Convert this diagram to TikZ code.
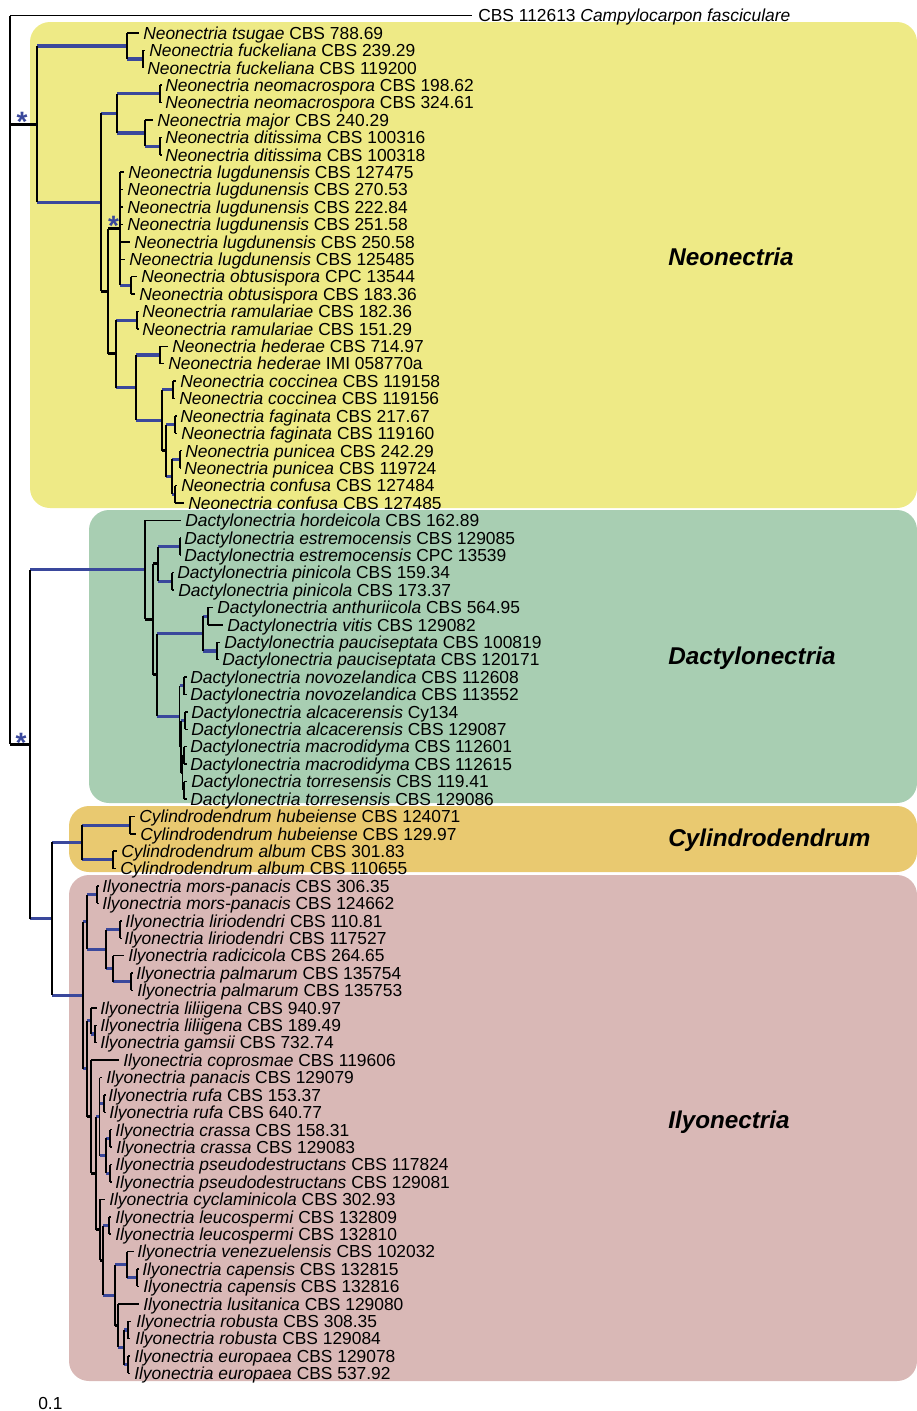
\documentclass[tikz,border=0pt]{standalone}
\usepackage{fontspec}
\setmainfont{Liberation Sans}
\definecolor{brblue}{RGB}{58,72,156}
\definecolor{cyel}{RGB}{238,234,134}
\definecolor{cgrn}{RGB}{168,206,178}
\definecolor{corg}{RGB}{233,201,112}
\definecolor{cpnk}{RGB}{217,184,182}
\tikzset{
 brT/.style={line width=1.1pt, black},
 brV/.style={line width=1.1pt, black},
 brB/.style={line width=2.3pt, brblue},
 brK/.style={line width=2.3pt, black},
 lab/.style={anchor=west, inner sep=0pt, font=\fontsize{13.05}{14}\selectfont, text height=9.4pt, text depth=0pt},
 clade/.style={anchor=west, inner sep=0pt, font=\fontsize{18.2}{20}\selectfont\bfseries\itshape, text height=13pt, text depth=0pt},
 cbox/.style={rounded corners=15pt},
 star/.style={text=brblue, font=\fontsize{21}{21}\selectfont\bfseries, inner sep=0pt}
}
\newcommand\mkleaf[5]{\coordinate (t#1) at (#2,#1); \node[lab] (l#1) at (#3,#1) {\textit{#4} #5};}
\newcommand\hbr[3]{\draw[#1] (#2 |- #3) -- (#3);}
\newcommand\vbr[3]{\draw[brV] (#1 |- #2) -- (#1 |- #3);}
\begin{document}
\begin{tikzpicture}[x=0.75pt, y=-0.75pt]
\useasboundingbox (0,0) rectangle (917,1411);
% clade backgrounds
\fill[cyel, cbox] (30,22) rectangle (917,508);
\fill[cgrn, cbox] (89,510) rectangle (917,803);
\fill[corg, cbox] (69,806) rectangle (917,872);
\fill[cpnk, cbox] (69,875) rectangle (917,1381);
% clade labels
\node[clade] (cN) at (668,257) {Neonectria};
\node[clade] (cD) at (668,656) {Dactylonectria};
\node[clade] (cC) at (668,838) {Cylindrodendrum};
\node[clade] (cI) at (668,1120) {Ilyonectria};
\node[lab] (scale) at (38,1403) {0.1};
\begin{scope}[x=0.75pt, y=-13.0575pt, yshift=-11.625pt]
% leaves
\coordinate (t0) at (472,0);
\node[lab] (l0) at (478,0) {CBS 112613 \textit{Campylocarpon fasciculare}};
\mkleaf{1}{139}{143}{Neonectria tsugae}{CBS 788.69}
\mkleaf{2}{145}{149}{Neonectria fuckeliana}{CBS 239.29}
\mkleaf{3}{144}{147}{Neonectria fuckeliana}{CBS 119200}
\mkleaf{4}{161.5}{165}{Neonectria neomacrospora}{CBS 198.62}
\mkleaf{5}{161.5}{165}{Neonectria neomacrospora}{CBS 324.61}
\mkleaf{6}{153}{157}{Neonectria major}{CBS 240.29}
\mkleaf{7}{161.5}{165}{Neonectria ditissima}{CBS 100316}
\mkleaf{8}{161.5}{165}{Neonectria ditissima}{CBS 100318}
\mkleaf{9}{124}{128}{Neonectria lugdunensis}{CBS 127475}
\mkleaf{10}{123}{127}{Neonectria lugdunensis}{CBS 270.53}
\mkleaf{11}{123}{127}{Neonectria lugdunensis}{CBS 222.84}
\mkleaf{12}{123}{127}{Neonectria lugdunensis}{CBS 251.58}
\mkleaf{13}{130}{134}{Neonectria lugdunensis}{CBS 250.58}
\mkleaf{14}{125}{129}{Neonectria lugdunensis}{CBS 125485}
\mkleaf{15}{137}{141}{Neonectria obtusispora}{CPC 13544}
\mkleaf{16}{135}{139}{Neonectria obtusispora}{CBS 183.36}
\mkleaf{17}{138.5}{142}{Neonectria ramulariae}{CBS 182.36}
\mkleaf{18}{138.5}{142}{Neonectria ramulariae}{CBS 151.29}
\mkleaf{19}{168}{172}{Neonectria hederae}{CBS 714.97}
\mkleaf{20}{164}{168}{Neonectria hederae}{IMI 058770a}
\mkleaf{21}{176}{180}{Neonectria coccinea}{CBS 119158}
\mkleaf{22}{175}{179}{Neonectria coccinea}{CBS 119156}
\mkleaf{23}{176.5}{180}{Neonectria faginata}{CBS 217.67}
\mkleaf{24}{177}{181}{Neonectria faginata}{CBS 119160}
\mkleaf{25}{181.5}{185}{Neonectria punicea}{CBS 242.29}
\mkleaf{26}{181}{184}{Neonectria punicea}{CBS 119724}
\mkleaf{27}{177}{181}{Neonectria confusa}{CBS 127484}
\mkleaf{28}{184}{188}{Neonectria confusa}{CBS 127485}
\mkleaf{29}{181}{185}{Dactylonectria hordeicola}{CBS 162.89}
\mkleaf{30}{181}{184}{Dactylonectria estremocensis}{CBS 129085}
\mkleaf{31}{181}{184}{Dactylonectria estremocensis}{CPC 13539}
\mkleaf{32}{174}{177}{Dactylonectria pinicola}{CBS 159.34}
\mkleaf{33}{174}{178}{Dactylonectria pinicola}{CBS 173.37}
\mkleaf{34}{213}{217}{Dactylonectria anthuriicola}{CBS 564.95}
\mkleaf{35}{223}{227}{Dactylonectria vitis}{CBS 129082}
\mkleaf{36}{220}{224}{Dactylonectria pauciseptata}{CBS 100819}
\mkleaf{37}{218.5}{222}{Dactylonectria pauciseptata}{CBS 120171}
\mkleaf{38}{186.5}{190}{Dactylonectria novozelandica}{CBS 112608}
\mkleaf{39}{186.5}{190}{Dactylonectria novozelandica}{CBS 113552}
\mkleaf{40}{187.5}{191}{Dactylonectria alcacerensis}{Cy134}
\mkleaf{41}{187.5}{191}{Dactylonectria alcacerensis}{CBS 129087}
\mkleaf{42}{186.5}{190}{Dactylonectria macrodidyma}{CBS 112601}
\mkleaf{43}{186.5}{190}{Dactylonectria macrodidyma}{CBS 112615}
\mkleaf{44}{187}{191}{Dactylonectria torresensis}{CBS 119.41}
\mkleaf{45}{186.5}{190}{Dactylonectria torresensis}{CBS 129086}
\mkleaf{46}{135}{139}{Cylindrodendrum hubeiense}{CBS 124071}
\mkleaf{47}{136}{140}{Cylindrodendrum hubeiense}{CBS 129.97}
\mkleaf{48}{117}{121}{Cylindrodendrum album}{CBS 301.83}
\mkleaf{49}{116}{120}{Cylindrodendrum album}{CBS 110655}
\mkleaf{50}{99}{102}{Ilyonectria mors-panacis}{CBS 306.35}
\mkleaf{51}{99}{102}{Ilyonectria mors-panacis}{CBS 124662}
\mkleaf{52}{121.5}{125}{Ilyonectria liriodendri}{CBS 110.81}
\mkleaf{53}{121.5}{124}{Ilyonectria liriodendri}{CBS 117527}
\mkleaf{54}{124}{128}{Ilyonectria radicicola}{CBS 264.65}
\mkleaf{55}{133}{136}{Ilyonectria palmarum}{CBS 135754}
\mkleaf{56}{133}{137}{Ilyonectria palmarum}{CBS 135753}
\mkleaf{57}{97}{100}{Ilyonectria liliigena}{CBS 940.97}
\mkleaf{58}{97}{100}{Ilyonectria liliigena}{CBS 189.49}
\mkleaf{59}{97}{100}{Ilyonectria gamsii}{CBS 732.74}
\mkleaf{60}{119}{123}{Ilyonectria coprosmae}{CBS 119606}
\mkleaf{61}{102}{106}{Ilyonectria panacis}{CBS 129079}
\mkleaf{62}{105.5}{108}{Ilyonectria rufa}{CBS 153.37}
\mkleaf{63}{105.5}{109}{Ilyonectria rufa}{CBS 640.77}
\mkleaf{64}{112}{115}{Ilyonectria crassa}{CBS 158.31}
\mkleaf{65}{112}{116}{Ilyonectria crassa}{CBS 129083}
\mkleaf{66}{112}{115}{Ilyonectria pseudodestructans}{CBS 117824}
\mkleaf{67}{112}{115}{Ilyonectria pseudodestructans}{CBS 129081}
\mkleaf{68}{105}{109}{Ilyonectria cyclaminicola}{CBS 302.93}
\mkleaf{69}{111}{115}{Ilyonectria leucospermi}{CBS 132809}
\mkleaf{70}{111}{115}{Ilyonectria leucospermi}{CBS 132810}
\mkleaf{71}{134}{137}{Ilyonectria venezuelensis}{CBS 102032}
\mkleaf{72}{139}{142}{Ilyonectria capensis}{CBS 132815}
\mkleaf{73}{139}{143}{Ilyonectria capensis}{CBS 132816}
\mkleaf{74}{139}{143}{Ilyonectria lusitanica}{CBS 129080}
\mkleaf{75}{131}{136}{Ilyonectria robusta}{CBS 308.35}
\mkleaf{76}{130}{135}{Ilyonectria robusta}{CBS 129084}
\mkleaf{77}{130}{134}{Ilyonectria europaea}{CBS 129078}
\mkleaf{78}{130}{134}{Ilyonectria europaea}{CBS 537.92}
% internal nodes
\coordinate (R) at (10,0);
\coordinate (N0) at (37,6.2421875);
\coordinate (NA) at (127,1.75);
\coordinate (NF) at (143,2.5);
\coordinate (NB) at (101,10.734375);
\coordinate (NC) at (117,5.625);
\coordinate (NM) at (160,4.5);
\coordinate (ND) at (145,6.75);
\coordinate (NDi) at (160,7.5);
\coordinate (NL) at (108,15.84375);
\coordinate (NLu) at (120,12.25);
\coordinate (NO) at (131,15.5);
\coordinate (NR) at (116,19.4375);
\coordinate (NRa) at (137,17.5);
\coordinate (NH) at (136,21.375);
\coordinate (NHe) at (160,19.5);
\coordinate (NCo) at (162,23.25);
\coordinate (NCc) at (173,21.5);
\coordinate (NFp) at (166,25);
\coordinate (NFa) at (175,23.5);
\coordinate (NPC) at (172,26.5);
\coordinate (NPu) at (180,25.5);
\coordinate (NCf) at (175,27.5);
\coordinate (M0) at (30,41.8671875);
\coordinate (D0) at (145,31.84375);
\coordinate (D1) at (153,34.6875);
\coordinate (D2) at (158,31.5);
\coordinate (DEs) at (180,30.5);
\coordinate (DPi) at (172,32.5);
\coordinate (D3) at (157,37.875);
\coordinate (D4) at (203,35.5);
\coordinate (DAV) at (208,34.5);
\coordinate (DPa) at (217,36.5);
\coordinate (D5) at (179.5,40.25);
\coordinate (DNo) at (184,38.5);
\coordinate (D6) at (181,42);
\coordinate (DAl) at (185,40.5);
\coordinate (D7) at (182.5,43.5);
\coordinate (DMa) at (184,42.5);
\coordinate (DTo) at (184,44.5);
\coordinate (C0) at (52,51.890625);
\coordinate (C1) at (82,47.5);
\coordinate (CHu) at (130,46.5);
\coordinate (CAl) at (113,48.5);
\coordinate (I0) at (83,56.28125);
\coordinate (I1) at (87,52.0625);
\coordinate (IMo) at (97,50.5);
\coordinate (I3) at (106,53.625);
\coordinate (ILi) at (120,52.5);
\coordinate (I4) at (113,54.75);
\coordinate (IPa) at (131,55.5);
\coordinate (I2) at (87,60.5);
\coordinate (I5) at (91,57.75);
\coordinate (I7) at (95,58.5);
\coordinate (I6) at (91,63.25);
\coordinate (I8) at (96,66.5);
\coordinate (I9) at (99.5,63.25);
\coordinate (IRu) at (104,62.5);
\coordinate (I11) at (106,65.5);
\coordinate (ICr) at (110,64.5);
\coordinate (IPs) at (110,66.5);
\coordinate (I10) at (100,69.75);
\coordinate (I12) at (103,71.5);
\coordinate (ILe) at (109,69.5);
\coordinate (I13) at (115,73.5);
\coordinate (I14) at (127,71.75);
\coordinate (ICa) at (137,72.5);
\coordinate (I15) at (118,75.25);
\coordinate (I16) at (124,76.5);
\coordinate (IRo) at (128,75.5);
\coordinate (IEu) at (128,77.5);
% horizontal branches
\hbr{brT}{R}{t0} \hbr{brK}{R}{N0} \hbr{brK}{R}{M0}
\hbr{brB}{N0}{NA} \hbr{brB}{N0}{NB}
\hbr{brT}{NA}{t1} \hbr{brB}{NA}{NF}
\hbr{brT}{NF}{t2} \hbr{brT}{NF}{t3}
\hbr{brB}{NB}{NC} \hbr{brK}{NB}{NL}
\hbr{brB}{NC}{NM} \hbr{brB}{NC}{ND}
\hbr{brT}{NM}{t4} \hbr{brT}{NM}{t5}
\hbr{brT}{ND}{t6} \hbr{brB}{ND}{NDi}
\hbr{brT}{NDi}{t7} \hbr{brT}{NDi}{t8}
\hbr{brK}{NL}{NLu} \hbr{brK}{NL}{NR}
\hbr{brT}{NLu}{t9} \hbr{brT}{NLu}{t10} \hbr{brT}{NLu}{t11} \hbr{brT}{NLu}{t12} \hbr{brT}{NLu}{t13} \hbr{brT}{NLu}{t14} \hbr{brB}{NLu}{NO}
\hbr{brT}{NO}{t15} \hbr{brT}{NO}{t16}
\hbr{brB}{NR}{NRa} \hbr{brB}{NR}{NH}
\hbr{brT}{NRa}{t17} \hbr{brT}{NRa}{t18}
\hbr{brB}{NH}{NHe} \hbr{brB}{NH}{NCo}
\hbr{brT}{NHe}{t19} \hbr{brT}{NHe}{t20}
\hbr{brB}{NCo}{NCc} \hbr{brK}{NCo}{NFp}
\hbr{brT}{NCc}{t21} \hbr{brT}{NCc}{t22}
\hbr{brB}{NFp}{NFa} \hbr{brB}{NFp}{NPC}
\hbr{brT}{NFa}{t23} \hbr{brT}{NFa}{t24}
\hbr{brB}{NPC}{NPu} \hbr{brB}{NPC}{NCf}
\hbr{brT}{NPu}{t25} \hbr{brT}{NPu}{t26}
\hbr{brT}{NCf}{t27} \hbr{brT}{NCf}{t28}
\hbr{brB}{M0}{D0} \hbr{brB}{M0}{C0}
\hbr{brT}{D0}{t29} \hbr{brK}{D0}{D1}
\hbr{brK}{D1}{D2} \hbr{brK}{D1}{D3}
\hbr{brB}{D2}{DEs} \hbr{brB}{D2}{DPi}
\hbr{brT}{DEs}{t30} \hbr{brT}{DEs}{t31}
\hbr{brT}{DPi}{t32} \hbr{brT}{DPi}{t33}
\hbr{brB}{D3}{D4} \hbr{brB}{D3}{D5}
\hbr{brB}{D4}{DAV} \hbr{brB}{D4}{DPa}
\hbr{brT}{DAV}{t34} \hbr{brT}{DAV}{t35}
\hbr{brT}{DPa}{t36} \hbr{brT}{DPa}{t37}
\hbr{brB}{D5}{DNo} \hbr{brK}{D5}{D6}
\hbr{brT}{DNo}{t38} \hbr{brT}{DNo}{t39}
\hbr{brB}{D6}{DAl} \hbr{brK}{D6}{D7}
\hbr{brT}{DAl}{t40} \hbr{brT}{DAl}{t41}
\hbr{brB}{D7}{DMa} \hbr{brB}{D7}{DTo}
\hbr{brT}{DMa}{t42} \hbr{brT}{DMa}{t43}
\hbr{brT}{DTo}{t44} \hbr{brT}{DTo}{t45}
\hbr{brB}{C0}{C1} \hbr{brB}{C0}{I0}
\hbr{brB}{C1}{CHu} \hbr{brB}{C1}{CAl}
\hbr{brT}{CHu}{t46} \hbr{brT}{CHu}{t47}
\hbr{brT}{CAl}{t48} \hbr{brT}{CAl}{t49}
\hbr{brB}{I0}{I1} \hbr{brB}{I0}{I2}
\hbr{brB}{I1}{IMo} \hbr{brB}{I1}{I3}
\hbr{brT}{IMo}{t50} \hbr{brT}{IMo}{t51}
\hbr{brB}{I3}{ILi} \hbr{brB}{I3}{I4}
\hbr{brT}{ILi}{t52} \hbr{brT}{ILi}{t53}
\hbr{brT}{I4}{t54} \hbr{brB}{I4}{IPa}
\hbr{brT}{IPa}{t55} \hbr{brT}{IPa}{t56}
\hbr{brB}{I2}{I5} \hbr{brK}{I2}{I6}
\hbr{brT}{I5}{t57} \hbr{brB}{I5}{I7}
\hbr{brT}{I7}{t58} \hbr{brT}{I7}{t59}
\hbr{brT}{I6}{t60} \hbr{brK}{I6}{I8}
\hbr{brB}{I8}{I9} \hbr{brK}{I8}{I10}
\hbr{brT}{I9}{t61} \hbr{brB}{I9}{IRu} \hbr{brB}{I9}{I11}
\hbr{brT}{IRu}{t62} \hbr{brT}{IRu}{t63}
\hbr{brB}{I11}{ICr} \hbr{brB}{I11}{IPs}
\hbr{brT}{ICr}{t64} \hbr{brT}{ICr}{t65}
\hbr{brT}{IPs}{t66} \hbr{brT}{IPs}{t67}
\hbr{brT}{I10}{t68} \hbr{brK}{I10}{I12}
\hbr{brB}{I12}{ILe} \hbr{brB}{I12}{I13}
\hbr{brT}{ILe}{t69} \hbr{brT}{ILe}{t70}
\hbr{brB}{I13}{I14} \hbr{brK}{I13}{I15}
\hbr{brT}{I14}{t71} \hbr{brB}{I14}{ICa}
\hbr{brT}{ICa}{t72} \hbr{brT}{ICa}{t73}
\hbr{brT}{I15}{t74} \hbr{brB}{I15}{I16}
\hbr{brB}{I16}{IRo} \hbr{brB}{I16}{IEu}
\hbr{brT}{IRo}{t75} \hbr{brT}{IRo}{t76}
\hbr{brT}{IEu}{t77} \hbr{brT}{IEu}{t78}
% vertical branches
\vbr{R}{t0}{M0}
\vbr{N0}{NA}{NB} \vbr{NA}{t1}{NF} \vbr{NF}{t2}{t3}
\vbr{NB}{NC}{NL} \vbr{NC}{NM}{ND} \vbr{NM}{t4}{t5} \vbr{ND}{t6}{NDi} \vbr{NDi}{t7}{t8}
\vbr{NL}{NLu}{NR} \vbr{NLu}{t9}{NO} \vbr{NO}{t15}{t16}
\vbr{NR}{NRa}{NH} \vbr{NRa}{t17}{t18} \vbr{NH}{NHe}{NCo} \vbr{NHe}{t19}{t20}
\vbr{NCo}{NCc}{NFp} \vbr{NCc}{t21}{t22} \vbr{NFp}{NFa}{NPC} \vbr{NFa}{t23}{t24}
\vbr{NPC}{NPu}{NCf} \vbr{NPu}{t25}{t26} \vbr{NCf}{t27}{t28}
\vbr{M0}{D0}{C0}
\vbr{D0}{t29}{D1} \vbr{D1}{D2}{D3} \vbr{D2}{DEs}{DPi} \vbr{DEs}{t30}{t31} \vbr{DPi}{t32}{t33}
\vbr{D3}{D4}{D5} \vbr{D4}{DAV}{DPa} \vbr{DAV}{t34}{t35} \vbr{DPa}{t36}{t37}
\vbr{D5}{DNo}{D6} \vbr{DNo}{t38}{t39} \vbr{D6}{DAl}{D7} \vbr{DAl}{t40}{t41}
\vbr{D7}{DMa}{DTo} \vbr{DMa}{t42}{t43} \vbr{DTo}{t44}{t45}
\vbr{C0}{C1}{I0} \vbr{C1}{CHu}{CAl} \vbr{CHu}{t46}{t47} \vbr{CAl}{t48}{t49}
\vbr{I0}{I1}{I2} \vbr{I1}{IMo}{I3} \vbr{IMo}{t50}{t51} \vbr{I3}{ILi}{I4} \vbr{ILi}{t52}{t53}
\vbr{I4}{t54}{IPa} \vbr{IPa}{t55}{t56}
\vbr{I2}{I5}{I6} \vbr{I5}{t57}{I7} \vbr{I7}{t58}{t59} \vbr{I6}{t60}{I8}
\vbr{I8}{I9}{I10} \vbr{I9}{t61}{I11} \vbr{IRu}{t62}{t63} \vbr{I11}{ICr}{IPs}
\vbr{ICr}{t64}{t65} \vbr{IPs}{t66}{t67}
\vbr{I10}{t68}{I12} \vbr{I12}{ILe}{I13} \vbr{ILe}{t69}{t70} \vbr{I13}{I14}{I15}
\vbr{I14}{t71}{ICa} \vbr{ICa}{t72}{t73} \vbr{I15}{t74}{I16} \vbr{I16}{IRo}{IEu}
\vbr{IRo}{t75}{t76} \vbr{IEu}{t77}{t78}
\end{scope}
% support asterisks
\node[star] (s1) at (22,122) {*};
\node[star] (s2) at (113.5,226) {*};
\node[star] (s3) at (21,743) {*};
\end{tikzpicture}
\end{document}
